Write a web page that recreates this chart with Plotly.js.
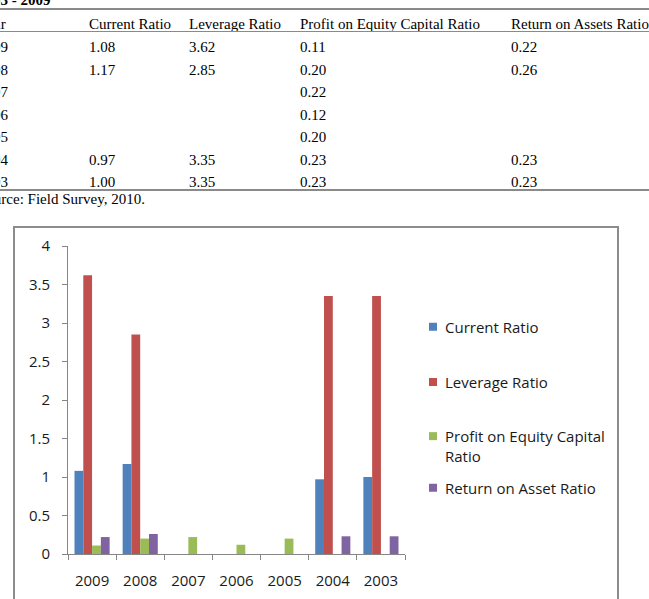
<!DOCTYPE html>
<html>
<head>
<meta charset="utf-8">
<script src="https://cdn.plot.ly/plotly-3.0.1.min.js"></script>
<style>
  html, body { margin: 0; padding: 0; width: 649px; height: 599px; overflow: hidden; background: #fff; }
  #tbl { position: absolute; left: 0; top: 0; width: 649px; height: 215px; overflow: hidden;
         font-family: "Liberation Serif", "Times New Roman", serif; font-size: 15px; color: #000; }
  .cell { position: absolute; white-space: nowrap; line-height: 17px; transform: translateY(-50%); }
  .rule { position: absolute; left: 0; width: 649px; background: #8a8a8a; }
  #box { position: absolute; left: 13px; top: 226px; width: 602px; height: 380px; border: 2px solid #8c8c8c; background: #fff; }
  #chart { width: 602px; height: 380px; }
</style>
</head>
<body>
<div id="tbl"></div>
<div id="box"><div id="chart"></div></div>
<script>
// Financial ratios by year (as listed in the table)
const years = ['2009', '2008', '2007', '2006', '2005', '2004', '2003'];
const currentRatio      = [1.08, 1.17, null, null, null, 0.97, 1.00];
const leverageRatio     = [3.62, 2.85, null, null, null, 3.35, 3.35];
const profitEquityRatio = [0.11, 0.20, 0.22, 0.12, 0.20, 0.23, 0.23];
const returnAssetsRatio = [0.22, 0.26, null, null, null, 0.23, 0.23];
// The chart plots profit on equity only for 2005-2009
const profitEquityPlotted = [0.11, 0.20, 0.22, 0.12, 0.20, null, null];

const tableTitle   = '2003 - 2009';
const tableHeaders = ['Year', 'Current Ratio', 'Leverage Ratio', 'Profit on Equity Capital Ratio', 'Return on Assets Ratio'];
const sourceNote   = 'Source: Field Survey, 2010.';
const seriesNames  = ['Current Ratio', 'Leverage Ratio', 'Profit on Equity Capital<br>Ratio', 'Return on Asset Ratio'];
const seriesColors = ['#4F81BD', '#C0504D', '#9BBB59', '#8064A2'];

// ---- table above the chart ----
(function buildTable() {
  const tbl = document.getElementById('tbl');
  const colX = [-22, 89, 189, 300, 511];
  const rowY0 = 47, rowStep = 22.5;
  function cell(text, x, y, bold) {
    const d = document.createElement('div');
    d.className = 'cell';
    d.style.left = x + 'px';
    d.style.top = y + 'px';
    if (bold) d.style.fontWeight = 'bold';
    d.textContent = text;
    tbl.appendChild(d);
  }
  function rule(y, h) {
    const r = document.createElement('div');
    r.className = 'rule';
    r.style.top = y + 'px';
    r.style.height = h + 'px';
    tbl.appendChild(r);
  }
  cell(tableTitle, -22, 0, true);
  rule(8, 2);
  tableHeaders.forEach((h, i) => cell(h, colX[i], 24, false));
  rule(31, 1);
  const cols = [currentRatio, leverageRatio, profitEquityRatio, returnAssetsRatio];
  years.forEach((yr, r) => {
    const y = rowY0 + r * rowStep;
    cell(yr, colX[0], y, false);
    cols.forEach((c, k) => {
      if (c[r] !== null) cell(c[r].toFixed(2), colX[k + 1], y, false);
    });
  });
  rule(189, 2);
  cell(sourceNote, -22, 199, false);
})();

// ---- grouped bar chart ----
const seriesData = [currentRatio, leverageRatio, profitEquityPlotted, returnAssetsRatio];
const legendIds = ['legend', 'legend2', 'legend3', 'legend4'];
const traces = seriesData.map((vals, i) => ({
  type: 'bar',
  x: years,
  y: vals,
  name: seriesNames[i],
  marker: { color: seriesColors[i], line: { width: 0 } },
  legend: legendIds[i],
  showlegend: true,
  hoverinfo: 'x+y+name'
}));

const font = { family: '"Open Sans", "Noto Sans", sans-serif', size: 15, color: '#1a1a1a' };
const legendBase = {
  x: 1.0, xanchor: 'left', yanchor: 'middle',
  font: font, bgcolor: 'rgba(0,0,0,0)', borderwidth: 0,
  valign: 'top', itemclick: false, itemdoubleclick: false
};
const legendY = [0.737, 0.558, 0.351, 0.214];

const layout = {
  width: 602, height: 380,
  margin: { l: 53, r: 212, t: 18, b: 54, autoexpand: false },
  paper_bgcolor: '#fff', plot_bgcolor: '#fff',
  showlegend: true,
  barmode: 'group', bargap: 0.27, bargroupgap: 0,
  font: font,
  xaxis: {
    type: 'category', tickson: 'boundaries',
    ticks: 'outside', ticklen: 5, tickcolor: '#868686',
    showline: true, linecolor: '#868686', linewidth: 1,
    showgrid: false, zeroline: false,
    ticklabelstandoff: 13, tickfont: font, fixedrange: true
  },
  yaxis: {
    range: [0, 4], dtick: 0.5, tick0: 0,
    ticks: 'outside', ticklen: 5, tickcolor: '#868686',
    showline: true, linecolor: '#868686', linewidth: 1,
    showgrid: false, zeroline: false,
    ticklabelstandoff: 9, tickfont: font, fixedrange: true
  }
};
legendIds.forEach((id, i) => {
  layout[id] = Object.assign({}, legendBase, { y: legendY[i] });
});

Plotly.newPlot('chart', traces, layout, { displayModeBar: false }).then(gd => {
  // smaller square legend keys, set close to their labels
  gd.querySelectorAll('.legendpoints path').forEach(p => {
    p.setAttribute('d', 'M12,4H4V-4H12Z');
  });
});
</script>
</body>
</html>
